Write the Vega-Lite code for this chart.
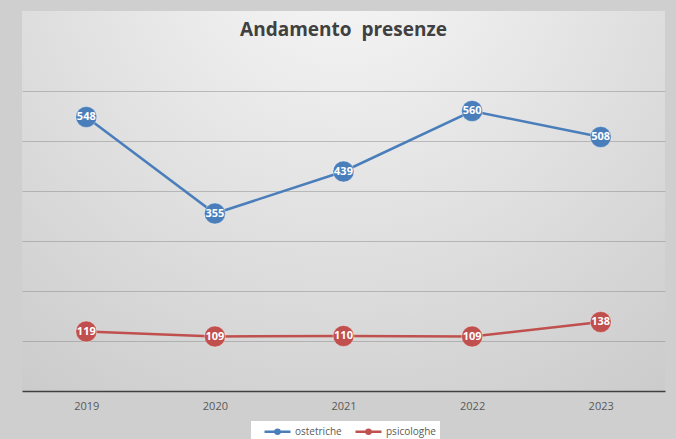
{
  "$schema": "https://vega.github.io/schema/vega-lite/v6.json",
  "autosize": {"type": "none"},
  "width": 643,
  "height": 380,
  "padding": {"left": 22, "top": 11, "right": 11, "bottom": 48},
  "background": "#cfcfcf",
  "title": {
    "text": "Andamento\u00a0 presenze",
    "font": "Open Sans",
    "fontSize": 19,
    "fontWeight": "bold",
    "color": "#404040",
    "anchor": "middle",
    "frame": "group",
    "baseline": "top",
    "offset": -29
  },
  "view": {
    "stroke": null,
    "fill": {
      "gradient": "radial",
      "x1": 0.5, "y1": 0.1, "r1": 0,
      "x2": 0.5, "y2": 0.1, "r2": 0.9,
      "stops": [
        {"offset": 0, "color": "#f8f8f8"},
        {"offset": 1, "color": "#c9c9c9"}
      ]
    }
  },
  "config": {
    "font": "Open Sans"
  },
  "data": {
    "values": [
      {"anno": "2019", "serie": "ostetriche", "valore": 548},
      {"anno": "2020", "serie": "ostetriche", "valore": 355},
      {"anno": "2021", "serie": "ostetriche", "valore": 439},
      {"anno": "2022", "serie": "ostetriche", "valore": 560},
      {"anno": "2023", "serie": "ostetriche", "valore": 508},
      {"anno": "2019", "serie": "psicologhe", "valore": 119},
      {"anno": "2020", "serie": "psicologhe", "valore": 109},
      {"anno": "2021", "serie": "psicologhe", "valore": 110},
      {"anno": "2022", "serie": "psicologhe", "valore": 109},
      {"anno": "2023", "serie": "psicologhe", "valore": 138}
    ]
  },
  "layer": [
    {
      "mark": {"type": "line", "strokeWidth": 2.5},
      "encoding": {
        "x": {
          "field": "anno", "type": "ordinal",
          "scale": {"type": "point", "padding": 0.5},
          "axis": {
            "title": null, "labelAngle": 0, "ticks": false,
            "domainColor": "#404040", "domainWidth": 1.5,
            "labelColor": "#595959", "labelFontSize": 11, "labelPadding": 9,
            "labelFont": "Open Sans"
          }
        },
        "y": {
          "field": "valore", "type": "quantitative",
          "scale": {"domain": [0, 760], "nice": false},
          "axis": {
            "title": null, "labels": false, "ticks": false, "domain": false,
            "values": [100, 200, 300, 400, 500, 600],
            "gridColor": "#8c8c8c", "gridOpacity": 0.5, "gridWidth": 1
          }
        },
        "color": {
          "field": "serie", "type": "nominal",
          "scale": {"domain": ["ostetriche", "psicologhe"], "range": ["#4a7ebb", "#c0504d"]},
          "legend": {
            "title": null, "orient": "none", "direction": "horizontal",
            "legendX": 229, "legendY": 410,
            "fillColor": "white", "padding": 4,
            "symbolType": "M0.6,0L5.8,0M2.8,0A0.4,0.4,0,1,0,3.6,0A0.4,0.4,0,1,0,2.8,0",
            "symbolSize": 100, "symbolStrokeWidth": 2.5,
            "labelFontSize": 10, "labelColor": "#595959", "labelFont": "Open Sans",
            "columnPadding": 4, "labelOffset": 27
          }
        }
      }
    },
    {
      "mark": {"type": "point", "filled": true, "size": 440, "opacity": 1, "stroke": "#ffffff", "strokeOpacity": 0.35, "strokeWidth": 1},
      "encoding": {
        "x": {"field": "anno", "type": "ordinal"},
        "y": {"field": "valore", "type": "quantitative"},
        "color": {"field": "serie", "type": "nominal"}
      }
    },
    {
      "mark": {"type": "text", "color": "white", "fontWeight": "bold", "fontSize": 11, "baseline": "middle", "font": "Open Sans"},
      "encoding": {
        "x": {"field": "anno", "type": "ordinal"},
        "y": {"field": "valore", "type": "quantitative"},
        "text": {"field": "valore", "type": "quantitative"}
      }
    }
  ]
}
